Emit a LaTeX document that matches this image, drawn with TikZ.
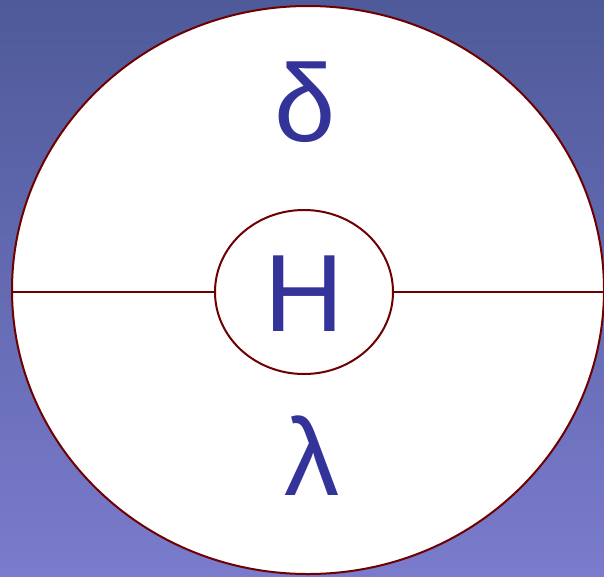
\documentclass[tikz,border=0pt]{standalone}
\usepackage{fontspec}
\setmainfont{Liberation Sans}
\usetikzlibrary{shapes.geometric, positioning}
\definecolor{bgtop}{HTML}{4E5A99}
\definecolor{bgbottom}{HTML}{7A7BCC}
\definecolor{rim}{HTML}{6E0000}
\definecolor{letter}{HTML}{333399}

\begin{document}
\begin{tikzpicture}[
        x=1pt, y=-1pt,
        ring/.style={draw=rim, line width=2pt, fill=white, ellipse, inner sep=0pt},
        glyph/.style={text=letter, anchor=base, inner sep=0pt, font=\fontsize{110}{110}\selectfont}
    ]
        \shade[top color=bgtop, bottom color=bgbottom] (0,0) rectangle (604,576);
        \useasboundingbox (0,0) rectangle (604,576);

        \node[ring, minimum width=592pt, minimum height=568pt] (outer) at (308,290) {};
        \node[ring, minimum width=178pt, minimum height=164pt] (core) at (304,292) {};

        \draw[rim, line width=2pt] (outer.west |- core.west) -- (core.west);
        \draw[rim, line width=2pt] (core.east) -- (core.east -| outer.east);

        \node[glyph] (upper) at (305,141) {δ};
        \node[glyph] (centre) at (304,331) {H};
        \node[glyph] (lower) at (312,495) {λ};
    \end{tikzpicture}
\end{document}
